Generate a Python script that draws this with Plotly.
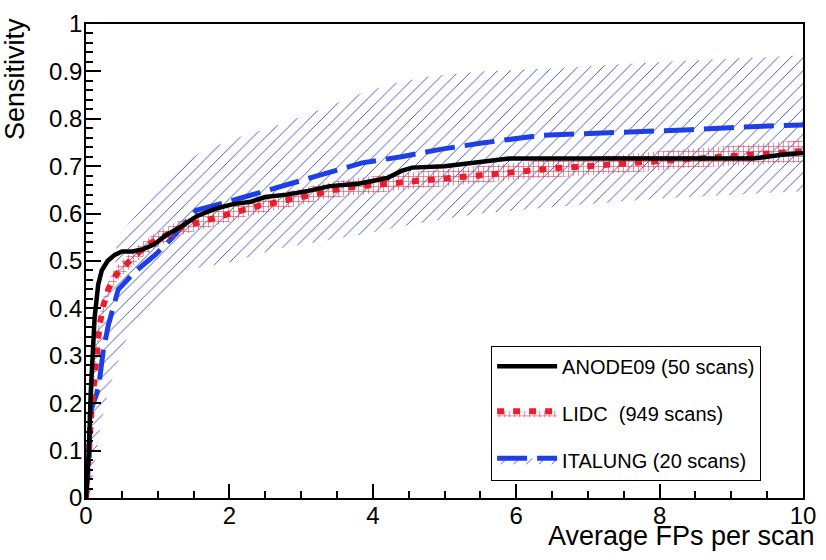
import plotly.graph_objects as go

# ---------------- data ----------------
anode_x = [0, 0.02, 0.04, 0.065, 0.09, 0.12, 0.17, 0.22, 0.3, 0.4,
           0.5, 0.65, 0.8, 0.95, 1.1, 1.3, 1.55, 1.8, 2.05, 2.3,
           2.5, 2.8, 3.1, 3.4, 3.8, 4.2, 4.4, 4.55, 5.0, 5.5,
           5.9, 6.5, 7.5, 8.5, 9.3, 9.7, 10]
anode_y = [0, 0.04, 0.10, 0.22, 0.32, 0.38, 0.45, 0.48, 0.50, 0.513,
           0.52, 0.52, 0.525, 0.535, 0.553, 0.57, 0.595, 0.61, 0.62, 0.625,
           0.635, 0.64, 0.648, 0.658, 0.663, 0.675, 0.69, 0.697, 0.70, 0.708,
           0.716, 0.716, 0.716, 0.716, 0.716, 0.724, 0.728]

lidc_x = [0, 0.02, 0.05, 0.08, 0.115, 0.15, 0.19, 0.24, 0.31, 0.39,
          0.47, 0.61, 0.75, 0.93, 1.12, 1.31, 1.54, 1.77, 2.0, 2.2,
          2.42, 2.63, 2.83, 3.07, 3.28, 3.5, 3.7, 3.92, 4.36, 4.8,
          5.24, 5.69, 6.12, 6.58, 7.0, 7.46, 7.9, 8.35, 8.8, 9.22,
          9.6, 10]
lidc_y = [0, 0.035, 0.12, 0.19, 0.255, 0.32, 0.365, 0.405, 0.44, 0.465,
          0.48, 0.50, 0.52, 0.54, 0.555, 0.57, 0.58, 0.59, 0.60, 0.61,
          0.617, 0.623, 0.63, 0.638, 0.646, 0.651, 0.656, 0.659, 0.667, 0.673,
          0.679, 0.685, 0.691, 0.696, 0.70, 0.705, 0.71, 0.716, 0.72, 0.724,
          0.728, 0.732]
lidc_err = [0, 0.006, 0.010, 0.012, 0.014, 0.015, 0.016, 0.016, 0.016, 0.016,
            0.016, 0.016, 0.016, 0.016, 0.016, 0.016, 0.016, 0.017, 0.017, 0.017,
            0.017, 0.017, 0.017, 0.017, 0.017, 0.017, 0.018, 0.018, 0.018, 0.018,
            0.018, 0.018, 0.018, 0.019, 0.019, 0.019, 0.020, 0.020, 0.020, 0.021,
            0.022, 0.024]

ital_x = [0, 0.02, 0.045, 0.05, 0.06, 0.09, 0.15, 0.19, 0.24, 0.31,
          0.38, 0.45, 0.68, 0.98, 1.21, 1.44, 1.54, 1.96, 2.35, 2.69,
          3.07, 3.43, 3.85, 4.4, 4.92, 5.52, 5.98, 6.35, 6.86, 7.5,
          8.43, 9.36, 10]
ital_y = [0, 0.035, 0.09, 0.13, 0.18, 0.195, 0.22, 0.25, 0.31, 0.364,
          0.405, 0.44, 0.477, 0.515, 0.55, 0.59, 0.607, 0.624, 0.641, 0.656,
          0.673, 0.69, 0.707, 0.72, 0.735, 0.749, 0.759, 0.765, 0.768, 0.771,
          0.777, 0.784, 0.787]

ital_band_x = [0, 0.05, 0.1, 0.2, 0.3, 0.4, 0.43, 0.6, 0.9, 1.35,
               1.55, 2.0, 2.7, 3.4, 3.85, 4.3, 4.8, 5.5, 6.6, 8.0, 10]
ital_hi = [0, 0.2, 0.3, 0.4, 0.44, 0.47, 0.55, 0.58, 0.63, 0.70,
           0.725, 0.755, 0.788, 0.827, 0.855, 0.875, 0.89, 0.90, 0.907, 0.92, 0.934]
ital_lo = [0, 0.0, 0.05, 0.15, 0.22, 0.27, 0.28, 0.35, 0.395, 0.457,
           0.485, 0.497, 0.527, 0.545, 0.556, 0.57, 0.584, 0.60, 0.615, 0.632, 0.647]

names = ["ANODE09 (50 scans)", "LIDC  (949 scans)", "ITALUNG (20 scans)"]
x_ticks = [0, 2, 4, 6, 8, 10]
y_ticks = [0, 0.1, 0.2, 0.3, 0.4, 0.5, 0.6, 0.7, 0.8, 0.9, 1]

# ---------------- styles ----------------
FONT = "Liberation Sans, Arial, Helvetica, sans-serif"
BLACK = "#000000"
RED = "#ec1c2c"
BLUE = "#1f3fe6"
HATCH = "#3448be"
BRICK = "rgba(225,55,75,0.9)"
TRANSP = "rgba(0,0,0,0)"

hatch = dict(shape="/", size=9, solidity=0.1, fgcolor=HATCH, fgopacity=1, bgcolor=TRANSP)
brick = dict(shape="+", size=5, solidity=0.24, fgcolor=BRICK, fgopacity=1, bgcolor=TRANSP)

lidc_lo = [y - e for y, e in zip(lidc_y, lidc_err)]
lidc_hi = [y + e for y, e in zip(lidc_y, lidc_err)]

fig = go.Figure()

# ITALUNG: lower edge, line (fill to lower), upper edge (fill to line)
fig.add_trace(go.Scatter(x=ital_band_x, y=ital_lo, mode="lines", line=dict(width=0, color=BLUE),
                         showlegend=False, legendgroup="ital", hoverinfo="skip"))
fig.add_trace(go.Scatter(x=ital_x, y=ital_y, mode="lines", name=names[2], legendgroup="ital",
                         legendrank=3, line=dict(color=BLUE, width=5, dash="30px,10px"),
                         fill="tonexty", fillcolor=TRANSP, fillpattern=hatch))
fig.add_trace(go.Scatter(x=ital_band_x, y=ital_hi, mode="lines", line=dict(width=0, color=BLUE),
                         showlegend=False, legendgroup="ital", hoverinfo="skip",
                         fill="tonexty", fillcolor=TRANSP, fillpattern=hatch))

# LIDC
fig.add_trace(go.Scatter(x=lidc_x, y=lidc_lo, mode="lines", line=dict(width=0, color=RED),
                         showlegend=False, legendgroup="lidc", hoverinfo="skip"))
fig.add_trace(go.Scatter(x=lidc_x, y=lidc_y, mode="lines", name=names[1], legendgroup="lidc",
                         legendrank=2, line=dict(color=RED, width=6, dash="7px,9px"),
                         fill="tonexty", fillcolor=TRANSP, fillpattern=brick))
fig.add_trace(go.Scatter(x=lidc_x, y=lidc_hi, mode="lines", line=dict(width=0, color=RED),
                         showlegend=False, legendgroup="lidc", hoverinfo="skip",
                         fill="tonexty", fillcolor=TRANSP, fillpattern=brick))

# ANODE09
fig.add_trace(go.Scatter(x=anode_x, y=anode_y, mode="lines", name=names[0], legendgroup="anode",
                         legendrank=1, line=dict(color=BLACK, width=4.5)))

axis_common = dict(
    showline=True, linecolor=BLACK, linewidth=1.5, mirror=True,
    ticks="inside", tickcolor=BLACK, tickwidth=1.5,
    showgrid=False, zeroline=False, ticklabeloverflow="allow",
    tickfont=dict(family=FONT, size=24, color=BLACK),
)

fig.update_xaxes(range=[0, 10], tickvals=x_ticks, ticklen=14, ticklabelstandoff=-5,
                 minor=dict(dtick=0.5, ticks="inside", ticklen=7, tickwidth=1.5, tickcolor=BLACK),
                 **axis_common)
fig.update_yaxes(range=[0, 1], tickvals=y_ticks, ticklen=15, ticklabelstandoff=-3,
                 minor=dict(dtick=0.02, ticks="inside", ticklen=7, tickwidth=1.5, tickcolor=BLACK),
                 **axis_common)

fig.update_layout(
    width=826, height=560,
    margin=dict(l=86, r=20, t=10, b=62),
    paper_bgcolor="white", plot_bgcolor="white",
    font=dict(family=FONT, color=BLACK),
    legend=dict(x=0.565, y=0.321, xanchor="left", yanchor="top",
                bgcolor="white", bordercolor=BLACK, borderwidth=1,
                font=dict(family=FONT, size=20, color=BLACK),
                itemwidth=60, tracegroupgap=18, traceorder="grouped",
                entrywidth=205, entrywidthmode="pixels"),
    annotations=[
        dict(text="Sensitivity", xref="paper", yref="paper", x=0, y=1,
             xanchor="center", yanchor="top", xshift=-71, yshift=8, textangle=-90,
             showarrow=False, font=dict(family=FONT, size=27, color=BLACK)),
        dict(text="Average FPs per scan", xref="paper", yref="paper", x=1, y=0,
             xanchor="right", yanchor="middle", xshift=14, yshift=-38,
             showarrow=False, font=dict(family=FONT, size=27, color=BLACK)),
    ],
)

fig.write_html("out.html", config={"displayModeBar": False},
               post_script="document.body.style.margin='0px';document.body.style.padding='0px';")
